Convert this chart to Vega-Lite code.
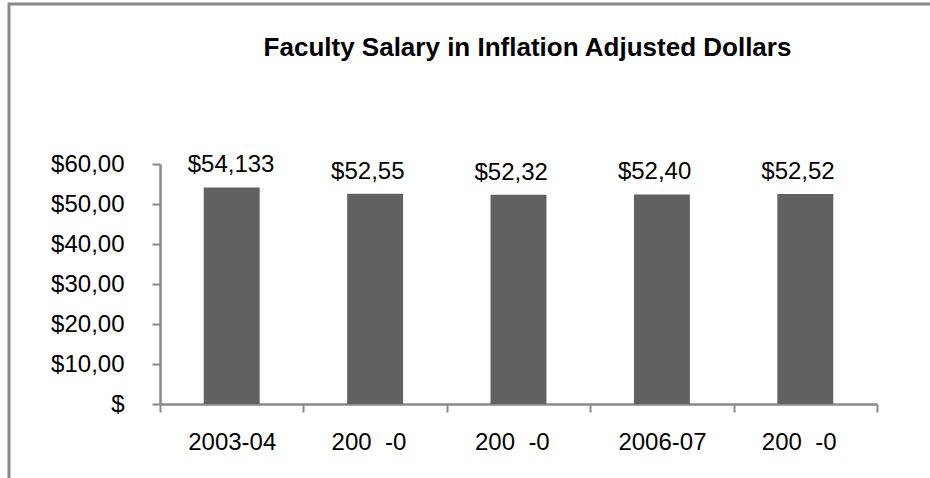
{
  "$schema": "https://vega.github.io/schema/vega-lite/v6.json",
  "width": 925,
  "height": 478,
  "autosize": {"type": "none"},
  "padding": {"left": 9, "top": 4, "right": 0, "bottom": 0},
  "background": "white",
  "title": {
    "text": "Faculty Salary in Inflation Adjusted Dollars",
    "anchor": "middle",
    "frame": "group",
    "dx": 56,
    "offset": -78,
    "baseline": "alphabetic",
    "fontSize": 26,
    "font": "Liberation Sans",
    "fontWeight": "bold",
    "color": "black"
  },
  "config": {
    "view": {"stroke": "#898989", "strokeWidth": 3},
    "font": "Liberation Sans"
  },
  "data": {
    "values": [
      {"year": "2003-04", "salary": 54133, "shown": "$54,133"},
      {"year": "2004-05", "salary": 52550, "shown": "$52,55"},
      {"year": "2005-06", "salary": 52320, "shown": "$52,32"},
      {"year": "2006-07", "salary": 52400, "shown": "$52,40"},
      {"year": "2007-08", "salary": 52520, "shown": "$52,52"}
    ]
  },
  "encoding": {
    "x": {
      "field": "year",
      "type": "nominal",
      "sort": null,
      "scale": {"range": [151, 868], "paddingInner": 0, "paddingOuter": 0},
      "axis": {
        "title": null,
        "orient": "bottom",
        "offset": -78,
        "labelAngle": 0,
        "labelAlign": "left",
        "labelOffset": -44,
        "labelFontSize": 24,
        "labelColor": "black",
        "labelPadding": 18,
        "labelExpr": "datum.label == '2003-04' || datum.label == '2006-07' || datum.label == '' || datum.label == null ? datum.label : '200\u00a0\u00a0-0'",
        "tickBand": "extent",
        "tickSize": 8,
        "tickWidth": 2,
        "tickColor": "#898989",
        "domainColor": "#898989",
        "domainWidth": 2.5,
        "grid": false
      }
    },
    "y": {
      "field": "salary",
      "type": "quantitative",
      "scale": {"domain": [0, 60000], "range": [400, 160], "nice": false},
      "axis": {
        "title": null,
        "orient": "left",
        "offset": -151,
        "values": [0, 10000, 20000, 30000, 40000, 50000, 60000],
        "labelExpr": "datum.value == 0 ? '$' : '$' + format(datum.value / 1000, 'd') + ',00'",
        "labelFontSize": 24,
        "labelColor": "black",
        "labelPadding": 28,
        "tickSize": 8,
        "tickWidth": 2,
        "tickColor": "#898989",
        "domainColor": "#898989",
        "domainWidth": 2.5,
        "grid": false
      }
    }
  },
  "layer": [
    {"mark": {"type": "bar", "color": "#616161", "width": {"band": 0.39}}},
    {
      "mark": {"type": "text", "align": "left", "dx": -44, "dy": -15, "baseline": "alphabetic", "fontSize": 24, "color": "black"},
      "encoding": {"text": {"field": "shown"}}
    }
  ]
}
